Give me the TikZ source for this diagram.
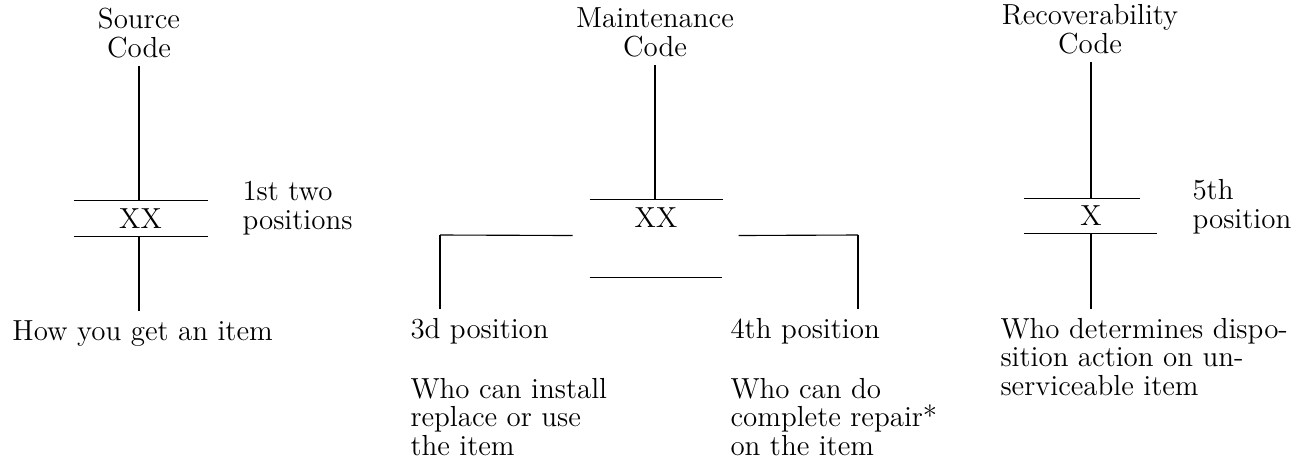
\documentclass[tikz,border=0pt]{standalone}
\usepackage{tikz}
\begin{document}
\begin{tikzpicture}[x=0.4pt,y=-0.4pt,
    every node/.style={font=\fontsize{11.6}{11.4}\selectfont},
    ttl/.style={anchor=base,align=center},
    lbl/.style={anchor=base west,align=left,inner xsep=0pt},
    codebox/.style={minimum width=53.2pt,minimum height=14pt,inner sep=0pt},
    vl/.style={line width=0.8pt},
    hl/.style={line width=0.45pt}]
        \useasboundingbox (0,0) rectangle (1297,462);

        % Titel (Anker auf der letzten Zeile)
        \node[ttl] (srct) at (139,57) {Source\\Code};
        \node[ttl] (mt) at (655,56) {Maintenance\\Code};
        \node[ttl] (rt) at (1090,53) {Recoverability\\Code};

        % Codefelder
        \node[codebox] (srcx) at (140.5,218.5) {XX};
        \node[codebox,minimum width=52.8pt] (mx) at (656,217.5) {XX};
        \node[codebox,minimum width=20pt,minimum height=13.6pt] (rx) at (1091,216) {X};

        \draw[hl] (srcx.north west) -- (srcx.north east);
        \draw[hl] (srcx.south west) -- (srcx.south east);
        \draw[hl] (mx.north west) -- (mx.north east);
        \draw[hl] (mx.south west) ++(0,42) -- ++(132,0);
        \draw[hl] (rx.north) ++(-67,0) -- ++(116,0);
        \draw[hl] (rx.south) ++(-67,0) -- ++(133,0);

        % Stellen
        \node[lbl] (two) at (242,229) {1st two\\positions};
        \node[lbl] (five) at (1192,228) {5th\\position};

        % Texte unten
        \node[lbl] (how) at (12,340) {How you get an item};
        \node[lbl] (pos3) at (410,338) {3d position};
        \node[lbl] (use3) at (410,455) {Who can install\\replace or use\\the item};
        \node[lbl] (pos4) at (730,338) {4th position};
        \node[lbl] (rep4) at (730,455) {Who can do\\complete repair*\\on the item};
        \node[lbl] (disp) at (1000,395) {Who determines dispo-\\sition action on un-\\serviceable item};

        % Linien
        \draw[vl] (srct.south) -- (srct.south |- srcx.north);
        \draw[vl] (srct |- srcx.south) -- (srct |- how.north);

        \draw[vl] (mt.south) -- (mt.south |- mx.north);
        \coordinate (ml) at (440,235);
        \coordinate (mr) at (858,235);
        \draw[hl] ([xshift=-6.8pt]mx.south west) -- (ml);
        \draw[vl] (ml) -- (ml |- pos3.north);
        \draw[hl] ([xshift=6.4pt]mx.south east) -- (mr);
        \draw[vl] (mr) -- (mr |- pos4.north);

        \draw[vl] (rt.south -| rx) -- (rx.north);
        \draw[vl] (rx.south) -- (rx.south |- disp.north);
\end{tikzpicture}
\end{document}
